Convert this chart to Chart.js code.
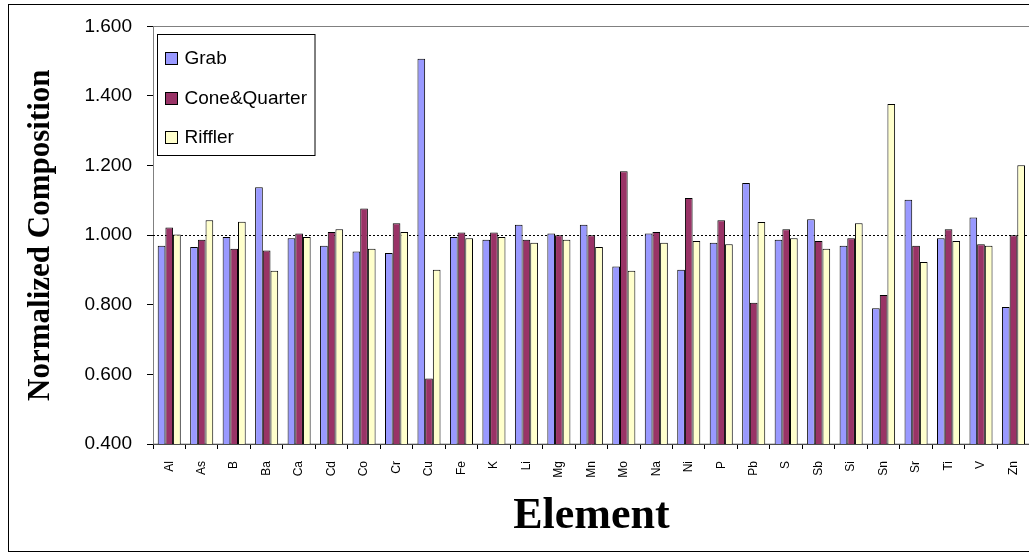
<!DOCTYPE html>
<html>
<head>
<meta charset="utf-8">
<title>Normalized Composition by Element</title>
<script src="https://cdn.jsdelivr.net/npm/chart.js@4.4.0/dist/chart.umd.min.js"></script>
<style>
    html, body { margin: 0; padding: 0; background: #fff; overflow: hidden; }
    #frame { position: absolute; left: 8px; top: 4px; width: 1100px; height: 546px; border: 1px solid #000; }
    #wrap { position: absolute; left: 0; top: 0; width: 1040px; height: 556px; }
</style>
</head>
<body>
<div id="frame"></div>
<div id="wrap"><canvas id="chart"></canvas></div>
<script>
const elements = ['Al', 'As', 'B', 'Ba', 'Ca', 'Cd', 'Co', 'Cr', 'Cu', 'Fe', 'K', 'Li', 'Mg', 'Mn',
    'Mo', 'Na', 'Ni', 'P', 'Pb', 'S', 'Sb', 'Si', 'Sn', 'Sr', 'Ti', 'V', 'Zn'];

const grab = [0.970, 0.966, 0.995, 1.138, 0.991, 0.970, 0.953, 0.949, 1.507,
    0.995, 0.987, 1.030, 1.005, 1.030, 0.910, 1.005, 0.901, 0.978,
    1.150, 0.987, 1.046, 0.970, 0.790, 1.102, 0.991, 1.051, 0.794];
const coneQuarter = [1.022, 0.987, 0.961, 0.956, 1.005, 1.009, 1.077, 1.034, 0.588,
    1.008, 1.008, 0.987, 1.000, 1.000, 1.184, 1.009, 1.107, 1.043,
    0.806, 1.017, 0.983, 0.991, 0.828, 0.970, 1.017, 0.974, 1.000];
const riffler = [1.002, 1.043, 1.039, 0.898, 0.995, 1.017, 0.961, 1.009, 0.901,
    0.991, 0.995, 0.978, 0.987, 0.966, 0.898, 0.978, 0.983, 0.974,
    1.038, 0.991, 0.961, 1.034, 1.377, 0.923, 0.983, 0.970, 1.201];

const yMin = 0.4;
const yMax = 1.6;
const yStep = 0.2;
const refValue = 1.0;

// dotted reference line at 1.000 + grey plot frame
const plotExtras = {
    id: 'plotExtras',
    beforeDatasetsDraw(chart) {
        const { ctx, chartArea: a, scales: { y } } = chart;
        ctx.save();
        ctx.strokeStyle = '#808080';
        ctx.lineWidth = 1;
        ctx.strokeRect(a.left + 0.5, Math.round(a.top) + 0.5, a.right - a.left + 10, a.bottom - a.top);
        const py = Math.round(y.getPixelForValue(refValue)) + 0.5;
        ctx.strokeStyle = '#000';
        ctx.setLineDash([2, 2]);
        ctx.beginPath();
        ctx.moveTo(a.left, py);
        ctx.lineTo(a.right, py);
        ctx.stroke();
        ctx.restore();
    }
};

// legend box drawn inside the plot, top left
const legendBox = {
    id: 'legendBox',
    afterDraw(chart) {
        const { ctx, chartArea: a } = chart;
        const sets = chart.data.datasets;
        ctx.save();
        ctx.font = '19px "Liberation Sans", Arial, sans-serif';
        const textW = Math.max(...sets.map(d => ctx.measureText(d.label).width));
        const x = Math.round(a.left) + 4.5;
        const y = 34.5;
        const w = 27 + textW + 8;
        const h = 121;
        ctx.fillStyle = '#fff';
        ctx.fillRect(x, y, w, h);
        ctx.strokeStyle = '#000';
        ctx.lineWidth = 1;
        ctx.strokeRect(x, y, w, h);
        sets.forEach((d, i) => {
            const cy = 58 + i * 39.5;
            ctx.fillStyle = d.backgroundColor;
            ctx.fillRect(x + 8, Math.round(cy - 6) + 0.5, 12, 12);
            ctx.strokeRect(x + 8, Math.round(cy - 6) + 0.5, 12, 12);
            ctx.fillStyle = '#000';
            ctx.textBaseline = 'middle';
            ctx.fillText(d.label, x + 27, cy + 1);
        });
        ctx.restore();
    }
};

const ctx = document.getElementById('chart').getContext('2d');
new Chart(ctx, {
    type: 'bar',
    data: {
        labels: elements,
        datasets: [
            { label: 'Grab', data: grab, backgroundColor: '#9999FF' },
            { label: 'Cone&Quarter', data: coneQuarter, backgroundColor: '#993366' },
            { label: 'Riffler', data: riffler, backgroundColor: '#FFFFCC' }
        ]
    },
    options: {
        responsive: true,
        maintainAspectRatio: false,
        animation: false,
        layout: { padding: { left: 0, right: 7, top: 23, bottom: 0 } },
        datasets: {
            bar: {
                borderColor: '#000',
                borderWidth: 1,
                categoryPercentage: 0.71,
                barPercentage: 1.0
            }
        },
        plugins: {
            legend: { display: false },
            tooltip: { enabled: false }
        },
        scales: {
            x: {
                grid: { drawOnChartArea: false, color: '#000', tickLength: 5, offset: true },
                border: { color: '#000' },
                ticks: {
                    color: '#000',
                    font: { family: '"Liberation Sans", Arial, sans-serif', size: 12 },
                    minRotation: 90,
                    maxRotation: 90,
                    padding: 12,
                    autoSkip: false
                },
                title: {
                    display: true,
                    text: 'Element',
                    color: '#000',
                    font: { family: '"Liberation Serif", "Times New Roman", serif', size: 44, weight: 'bold', lineHeight: 1 },
                    padding: { top: 0, bottom: 17 }
                },
                afterFit: s => { s.height = 112; }
            },
            y: {
                min: yMin,
                max: yMax,
                grid: { drawOnChartArea: false, color: '#000', tickLength: 6 },
                border: { color: '#000' },
                ticks: {
                    stepSize: yStep,
                    color: '#000',
                    padding: 15,
                    font: { family: '"Liberation Sans", Arial, sans-serif', size: 19 },
                    callback: v => Number(v).toFixed(3)
                },
                title: {
                    display: true,
                    text: 'Normalized Composition',
                    color: '#000',
                    font: { family: '"Liberation Serif", "Times New Roman", serif', size: 31, weight: 'bold', lineHeight: 1 },
                    padding: { top: 25, bottom: 0 }
                },
                afterFit: s => { s.width = 153; }
            }
        }
    },
    plugins: [plotExtras, legendBox]
});
</script>
</body>
</html>
